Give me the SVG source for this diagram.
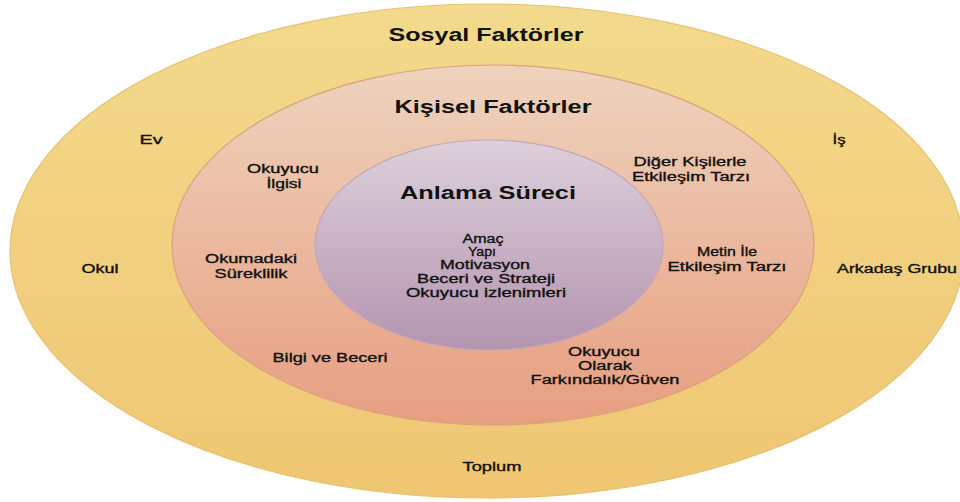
<svg xmlns="http://www.w3.org/2000/svg" width="960" height="502" viewBox="0 0 960 502">
<defs>
<linearGradient id="gOuter" x1="0" y1="0" x2="0" y2="1">
<stop offset="0" stop-color="#f3da8c"/>
<stop offset="1" stop-color="#efc672"/>
</linearGradient>
<linearGradient id="gMid" x1="0" y1="0" x2="0" y2="1">
<stop offset="0" stop-color="#eed3bd"/>
<stop offset="1" stop-color="#e79e80"/>
</linearGradient>
<linearGradient id="gInner" x1="0" y1="0" x2="0" y2="1">
<stop offset="0" stop-color="#ddd0da"/>
<stop offset="1" stop-color="#b394af"/>
</linearGradient>
<style>
text{font-family:"Liberation Sans",Arial,sans-serif;fill:#111;text-anchor:middle}
.t{font-size:17.5px;font-weight:bold}
.l{font-size:12.5px;stroke:#111;stroke-width:0.35px}
.ring{stroke-width:1.2}
</style>
</defs>
<rect width="960" height="502" fill="#ffffff"/>
<g id="sosyal">
<ellipse class="ring" cx="487" cy="251" rx="477" ry="247" fill="url(#gOuter)" stroke="#e6c070"/>
<text class="t" x="486" y="41" textLength="195" lengthAdjust="spacingAndGlyphs">Sosyal Faktörler</text>
<text class="l" x="151" y="144" textLength="23" lengthAdjust="spacingAndGlyphs">Ev</text>
<text class="l" x="839" y="144" textLength="13" lengthAdjust="spacingAndGlyphs">İş</text>
<text class="l" x="100" y="273" textLength="37" lengthAdjust="spacingAndGlyphs">Okul</text>
<text class="l" x="897" y="273" textLength="120" lengthAdjust="spacingAndGlyphs">Arkadaş Grubu</text>
<text class="l" x="492" y="471" textLength="59" lengthAdjust="spacingAndGlyphs">Toplum</text>
</g>
<g id="kisisel">
<ellipse class="ring" cx="493" cy="245" rx="321" ry="180" fill="url(#gMid)" stroke="#d9a07e"/>
<text class="t" x="493" y="113" textLength="197" lengthAdjust="spacingAndGlyphs">Kişisel Faktörler</text>
<text class="l" x="283" y="173" textLength="72" lengthAdjust="spacingAndGlyphs">Okuyucu</text>
<text class="l" x="284" y="188" textLength="35" lengthAdjust="spacingAndGlyphs">İlgisi</text>
<text class="l" x="690" y="166" textLength="113" lengthAdjust="spacingAndGlyphs">Diğer Kişilerle</text>
<text class="l" x="691" y="181" textLength="118" lengthAdjust="spacingAndGlyphs">Etkileşim Tarzı</text>
<text class="l" x="251" y="263" textLength="92" lengthAdjust="spacingAndGlyphs">Okumadaki</text>
<text class="l" x="251" y="278" textLength="73" lengthAdjust="spacingAndGlyphs">Süreklilik</text>
<text class="l" x="727" y="256" textLength="60" lengthAdjust="spacingAndGlyphs">Metin İle</text>
<text class="l" x="727" y="271" textLength="119" lengthAdjust="spacingAndGlyphs">Etkileşim Tarzı</text>
<text class="l" x="330" y="362" textLength="115" lengthAdjust="spacingAndGlyphs">Bilgi ve Beceri</text>
<text class="l" x="604" y="356" textLength="72" lengthAdjust="spacingAndGlyphs">Okuyucu</text>
<text class="l" x="605" y="370" textLength="54" lengthAdjust="spacingAndGlyphs">Olarak</text>
<text class="l" x="605" y="384" textLength="149" lengthAdjust="spacingAndGlyphs">Farkındalık/Güven</text>
</g>
<g id="anlama">
<ellipse class="ring" cx="489" cy="245" rx="174" ry="105" fill="url(#gInner)" stroke="#c4a4b8"/>
<text class="t" x="488" y="199" textLength="176" lengthAdjust="spacingAndGlyphs">Anlama Süreci</text>
<text class="l" x="483" y="243" textLength="41" lengthAdjust="spacingAndGlyphs">Amaç</text>
<text class="l" x="482" y="256" textLength="28" lengthAdjust="spacingAndGlyphs">Yapı</text>
<text class="l" x="485" y="269" textLength="90" lengthAdjust="spacingAndGlyphs">Motivasyon</text>
<text class="l" x="486" y="283" textLength="138" lengthAdjust="spacingAndGlyphs">Beceri ve Strateji</text>
<text class="l" x="486" y="297" textLength="160" lengthAdjust="spacingAndGlyphs">Okuyucu izlenimleri</text>
</g>
<g id="connectors"/>
</svg>
